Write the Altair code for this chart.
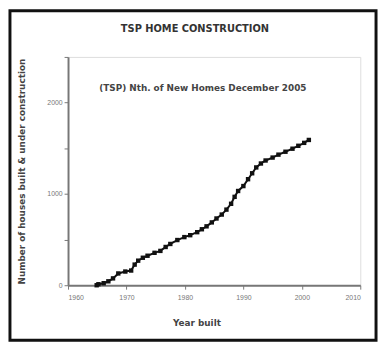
import altair as alt
import pandas as pd

years = [1964.9, 1965.2, 1966.1, 1966.9, 1967.7, 1968.6, 1969.8, 1970.8, 1971.4, 1972.0,
         1972.8, 1973.6, 1974.8, 1975.8, 1976.7, 1977.5, 1978.7, 1979.9, 1980.9, 1982.1,
         1982.9, 1983.7, 1984.6, 1985.4, 1986.3, 1987.1, 1987.9, 1988.5, 1989.1, 1990.0,
         1990.8, 1991.5, 1992.2, 1993.0, 1993.8, 1995.0, 1996.0, 1997.2, 1998.4, 1999.4,
         2000.4, 2001.2]
homes = [0, 11, 22, 43, 75, 129, 150, 161, 226, 269,
         301, 323, 355, 376, 419, 452, 495, 527, 548, 581,
         613, 645, 688, 731, 774, 828, 892, 968, 1032, 1086,
         1161, 1226, 1290, 1333, 1366, 1398, 1430, 1462, 1495, 1527,
         1559, 1591]
x_ticks = [1960, 1970, 1980, 1990, 2000, 2010]
y_ticks = [0, 500, 1000, 1500, 2000, 2500]

title_text = "TSP HOME CONSTRUCTION"
note_text = "(TSP) Nth. of New Homes December 2005"
x_title = "Year built"
y_title = "Number of houses built & under construction"

df = pd.DataFrame({"year": years, "homes": homes})

W, H = 297, 232
FONT = "Liberation Sans"
BFONT = "DejaVu Sans"

xs = alt.Scale(domain=[1960, 2010], nice=False)
ys = alt.Scale(domain=[0, 2500], nice=False)

line = alt.Chart(df).mark_line(
    color="#111", strokeWidth=2,
    point=alt.OverlayMarkDef(shape="square", filled=True, color="#111", size=20)
).encode(
    x=alt.X("year:Q", scale=xs,
            axis=alt.Axis(values=x_ticks, format="d", title=None, grid=False,
                          labelFontSize=7, labelColor="#777", labelPadding=4,
                          tickSize=4, tickColor="#777", domainColor="#777",
                          domainWidth=2, labelFont=FONT)),
    y=alt.Y("homes:Q", scale=ys,
            axis=alt.Axis(values=y_ticks, title=y_title, grid=False,
                          labelExpr="datum.value % 1000 == 0 && datum.value < 2500 ? datum.label : ''",
                          format="d", labelFontSize=7, labelColor="#777",
                          tickSize=4, tickColor="#777", domainColor="#777",
                          domainWidth=2, labelFont=FONT, titleFont=BFONT,
                          titleFontSize=9, titleColor="#444", titleFontWeight="bold",
                          titlePadding=21)),
)

title_mark = alt.Chart(pd.DataFrame({"t": [title_text]})).mark_text(
    font=BFONT, fontSize=10, fontWeight="bold", color="#333"
).encode(text="t:N", x=alt.value(129), y=alt.value(-28))

note_mark = alt.Chart(pd.DataFrame({"t": [note_text]})).mark_text(
    font=BFONT, fontSize=9, fontWeight="bold", color="#444"
).encode(text="t:N", x=alt.value(137), y=alt.value(32))

xt_mark = alt.Chart(pd.DataFrame({"t": [x_title]})).mark_text(
    font=BFONT, fontSize=9, fontWeight="bold", color="#444"
).encode(text="t:N", x=alt.value(131), y=alt.value(270))

border = alt.Chart(pd.DataFrame({"a": [0]})).mark_rect(
    fill=None, stroke="#111", strokeWidth=3
).encode(x=alt.value(-59), x2=alt.value(313), y=alt.value(-47), y2=alt.value(288))

chart = alt.layer(line, title_mark, note_mark, xt_mark, border).properties(
    width=W, height=H,
    autosize=alt.AutoSizeParams(type="none"),
    padding={"left": 61, "top": 47, "right": 18, "bottom": 58},
).configure_view(stroke="#999", strokeWidth=2).configure(background="white")

chart.save("out.html", embed_options={"renderer": "svg", "actions": False})
